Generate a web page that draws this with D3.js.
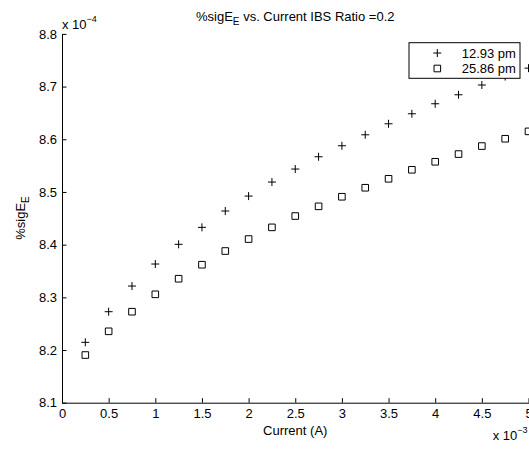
<!DOCTYPE html>
<html>
<head>
<meta charset="utf-8">
<script src="https://cdn.jsdelivr.net/npm/d3@7"></script>
<style>
  html, body { margin: 0; padding: 0; background: #fff; }
  svg { display: block; }
  text { font-family: "Liberation Sans", Arial, Helvetica, sans-serif; fill: #000; }
</style>
</head>
<body>
<svg id="chart" width="529" height="450"></svg>
<script>
// Current (A), in units of 1e-3
const current = [0.25, 0.5, 0.75, 1.0, 1.25, 1.5, 1.75, 2.0, 2.25, 2.5,
                 2.75, 3.0, 3.25, 3.5, 3.75, 4.0, 4.25, 4.5, 4.75, 5.0];
// %sigE_E, in units of 1e-4
const series12_93 = [8.2146, 8.2727, 8.3214, 8.3632, 8.4006, 8.4328, 8.4638, 8.4922, 8.5188, 8.5435,
                     8.5668, 8.5877, 8.6085, 8.6294, 8.6484, 8.6674, 8.6845, 8.7030, 8.7190, 8.7350];
const series25_86 = [8.1905, 8.2355, 8.2727, 8.3057, 8.3353, 8.3619, 8.3879, 8.4106, 8.4328, 8.4543,
                     8.4727, 8.4909, 8.5080, 8.5250, 8.5421, 8.5573, 8.5719, 8.5871, 8.6010, 8.6150];
const seriesNames = ["12.93 pm", "25.86 pm"];
const xTicks = [0, 0.5, 1, 1.5, 2, 2.5, 3, 3.5, 4, 4.5, 5];
const yTicks = [8.1, 8.2, 8.3, 8.4, 8.5, 8.6, 8.7, 8.8];

const svg = d3.select("#chart");
const FS = 13;
const mLeft = 62, mRight = 528.5, mTop = 33.9, mBottom = 402.7;

const x = d3.scaleLinear().domain([0, 5]).range([mLeft, mRight]);
const y = d3.scaleLinear().domain([8.1, 8.8]).range([mBottom, mTop]);

// Axes
const xAxis = d3.axisBottom(x).tickValues(xTicks).tickSizeInner(-4.5).tickSizeOuter(0)
  .tickPadding(6.5).tickFormat(d3.format("~g"));
const yAxis = d3.axisLeft(y).tickValues(yTicks).tickSizeInner(-4.5).tickSizeOuter(0)
  .tickPadding(5).tickFormat(d3.format(".1f"));

const gx = svg.append("g").attr("transform", `translate(0,${mBottom})`).call(xAxis);
const gy = svg.append("g").attr("transform", `translate(${mLeft},0)`).call(yAxis);
[gx, gy].forEach(g => {
  g.selectAll("text").attr("font-size", FS).attr("font-family", '"Liberation Sans", Arial, sans-serif').attr("fill", "#000");
  g.selectAll("line").attr("stroke", "#000");
  g.select(".domain").attr("stroke", "#000");
});

// Markers
const plusPath = (cx, cy, r) => `M${cx - r},${cy}H${cx + r}M${cx},${cy - r}V${cy + r}`;
const squarePath = (cx, cy, r) => `M${cx - r},${cy - r}H${cx + r}V${cy + r}H${cx - r}Z`;

svg.append("g").selectAll("path")
  .data(current.map((c, i) => [c, series12_93[i]]))
  .join("path")
  .attr("d", d => plusPath(x(d[0]), y(d[1]), 4))
  .attr("stroke", "#000").attr("stroke-width", 1).attr("fill", "none");

svg.append("g").selectAll("path")
  .data(current.map((c, i) => [c, series25_86[i]]))
  .join("path")
  .attr("d", d => squarePath(x(d[0]), y(d[1]), 3.3))
  .attr("stroke", "#000").attr("stroke-width", 1).attr("fill", "none");

// Legend
const lg = svg.append("g");
lg.append("rect").attr("x", 409).attr("y", 42.7).attr("width", 111).attr("height", 35.6)
  .attr("fill", "#fff").attr("stroke", "#000").attr("stroke-width", 1);
const rows = [53, 68.5];
lg.append("path").attr("d", plusPath(437.3, rows[0], 4)).attr("stroke", "#000").attr("fill", "none");
lg.append("path").attr("d", squarePath(437.3, rows[1], 3.3)).attr("stroke", "#000").attr("fill", "none");
seriesNames.forEach((n, i) => {
  lg.append("text").attr("x", 461.7).attr("y", rows[i] + 4.6).attr("font-size", FS).text(n);
});

// Title
const title = svg.append("text").attr("x", (mLeft + mRight) / 2).attr("y", 21)
  .attr("text-anchor", "middle").attr("font-size", FS);
title.append("tspan").text("%sigE");
title.append("tspan").attr("dy", 4).attr("font-size", 10).text("E");
title.append("tspan").attr("dy", -4).text(" vs. Current IBS Ratio =0.2");

// Y label
const yl = svg.append("text").attr("transform", "translate(25,218) rotate(-90)")
  .attr("text-anchor", "middle").attr("font-size", FS);
yl.append("tspan").text("%sigE");
yl.append("tspan").attr("dy", 4).attr("font-size", 10).text("E");

// X label
svg.append("text").attr("x", (mLeft + mRight) / 2).attr("y", 435)
  .attr("text-anchor", "middle").attr("font-size", FS).text("Current (A)");

// Exponent labels
const ey = svg.append("text").attr("x", 62).attr("y", 28.7).attr("font-size", FS);
ey.append("tspan").text("x 10");
ey.append("tspan").attr("dy", -7).attr("font-size", 9).text("\u22124");

const ex = svg.append("text").attr("x", 492.7).attr("y", 440).attr("font-size", FS);
ex.append("tspan").text("x 10");
ex.append("tspan").attr("dy", -7).attr("font-size", 9).text("\u22123");
</script>
</body>
</html>
